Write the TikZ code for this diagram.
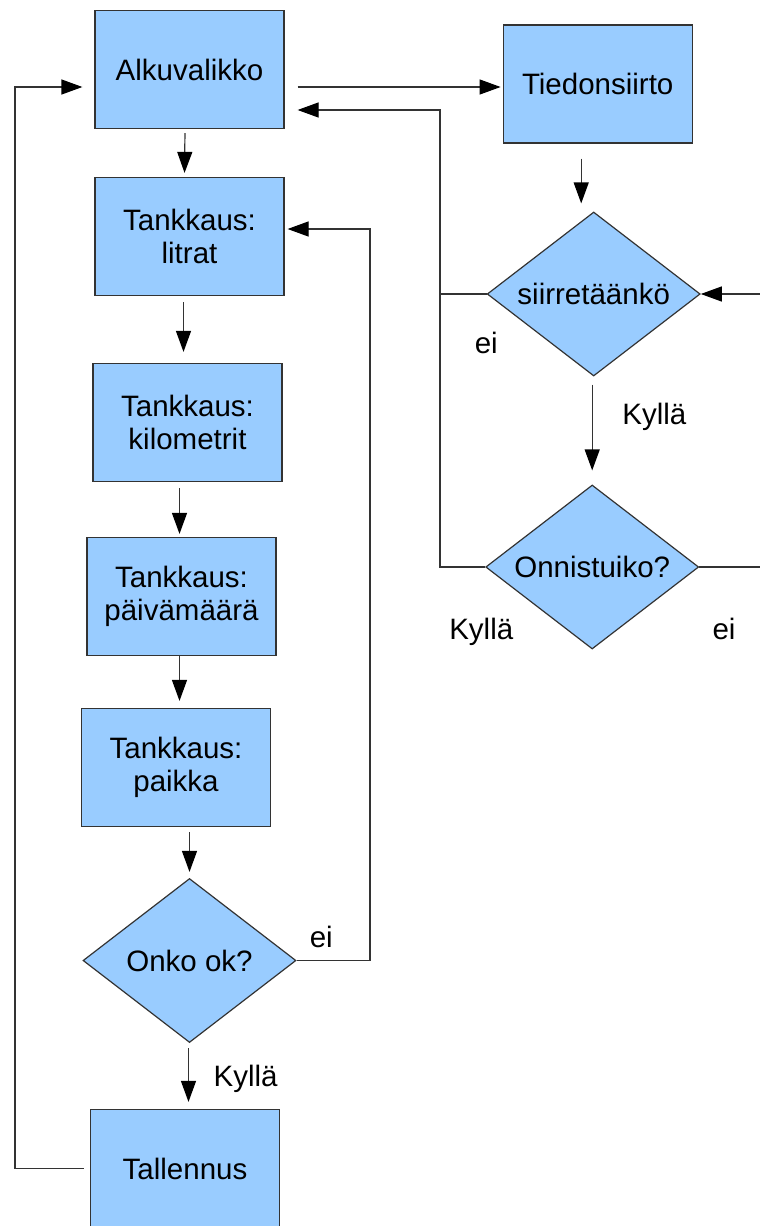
\documentclass[tikz,border=0pt]{standalone}
\usepackage{fontspec}
\setmainfont{Liberation Sans}
\usepackage{tikz}
\usetikzlibrary{positioning}
\usetikzlibrary{arrows.meta}
\usetikzlibrary{shapes.geometric}
\definecolor{boxblue}{HTML}{99CCFF}
\definecolor{linegray}{HTML}{333333}

\begin{document}
\begin{tikzpicture}[
x=1pt, y=-1pt,
font=\fontsize{29.5}{33.5}\selectfont,
box/.style={rectangle, draw=linegray, fill=boxblue, line width=1.2pt, minimum width=189pt, minimum height=118pt, align=center, inner sep=0pt},
choice/.style={diamond, draw=linegray, fill=boxblue, line width=1.2pt, minimum width=213pt, minimum height=164pt, aspect=1.3, inner sep=0pt},
wire/.style={draw=linegray, line width=1.2pt},
edge/.style={wire, -{Triangle[length=21pt,width=15pt,black]}},
lbl/.style={inner sep=0pt, anchor=base west}
]
\useasboundingbox (0,0) rectangle (760,1226);

%Nodes
\node[box]        (alku)     at (189.5,69.5)                        {Alkuvalikko};
\node[box]        (litrat)   [below=47.8pt of alku]                 {Tankkaus:\\litrat};
\node[box]        (kilo)     [below=66.8pt of litrat, xshift=-2pt]  {Tankkaus:\\kilometrit};
\node[box]        (paiva)    [below=54.8pt of kilo, xshift=-6pt]    {Tankkaus:\\päivämäärä};
\node[box]        (paikka)   [below=51.8pt of paiva, xshift=-5.5pt] {Tankkaus:\\paikka};
\node[choice]     (onko)     [below=50.8pt of paikka, xshift=13.5pt] {Onko ok?};
\node[box]        (tall)     [below=65.8pt of onko, xshift=-4.5pt]  {Tallennus};

\node[box]        (tied)     [right=218pt of alku, yshift=-14.5pt]   {Tiedonsiirto};
\node[choice]     (siir)     [below=67.8pt of tied, xshift=-4pt]    {siirretäänkö};
\node[choice]     (onn)      [below=107.8pt of siir, xshift=-1.5pt] {Onnistuiko?};

\coordinate (back)   at (440,110);
\coordinate (far)    at (800,0);
\coordinate (okback) at (370,229);
\coordinate (home)   at (15,87);

%Lines
\draw[edge, shorten <=4pt, shorten >=4pt] ([xshift=-4.5pt]alku.south) -- ([xshift=-5pt]litrat.north);
\draw[edge, shorten <=6pt, shorten >=11pt] ([xshift=-6pt]litrat.south) -- ([xshift=-4pt]kilo.north);
\draw[edge, shorten <=6pt, shorten >=3pt] ([xshift=-8pt]kilo.south) -- ([xshift=-2pt]paiva.north);
\draw[edge, shorten >=7pt] ([xshift=-2pt]paiva.south) -- ([xshift=3.5pt]paikka.north);
\draw[edge, shorten <=5pt, shorten >=6pt] ([xshift=13.5pt]paikka.south) -- (onko.north);
\draw[edge, shorten <=5pt, shorten >=7pt] ([xshift=-1pt]onko.south) -- ([xshift=3.5pt]tall.north);

\draw[edge, shorten <=15pt, shorten >=8pt] ([xshift=-16.5pt]tied.south) -- ([xshift=-12.5pt]siir.north);
\draw[edge, shorten <=8pt, shorten >=14pt] ([xshift=-1.5pt]siir.south) -- (onn.north);

\draw[edge, shorten <=13pt, shorten >=2pt] ([yshift=-17.5pt]alku.east) -- ([yshift=-3pt]tied.west);
\draw[wire] (siir.west) -- (siir.west -| back);
\draw[edge, shorten >=13pt] (onn.west) -| (back) -- (back -| alku.east);
\draw[edge] (onn.east) -- (onn.east -| far) |- (siir.east);
\draw[edge, shorten >=3pt] (onko.east) -| (okback) -- (okback -| litrat.east);
\draw[edge, shorten <=6pt, shorten >=12pt] (tall.west) -| (home) -- (home -| alku.west);

\node[lbl] (eiok)      at ([shift={(13pt,13pt)}]onko.east)     {ei};
\node[lbl] (kyllaok)   at ([shift={(24pt,-43pt)}]onko.south)   {Kyllä};
\node[lbl] (kyllasiir) at ([shift={(28.5pt,-48pt)}]siir.south) {Kyllä};
\node[lbl] (eisiir)    at ([shift={(-12pt,-59pt)}]siir.west)   {ei};
\node[lbl] (kyllaonn)  at ([shift={(-36pt,-72pt)}]onn.west)    {Kyllä};
\node[lbl] (eionn)     at ([shift={(13pt,-72pt)}]onn.east)     {ei};

\end{tikzpicture}
\end{document}
